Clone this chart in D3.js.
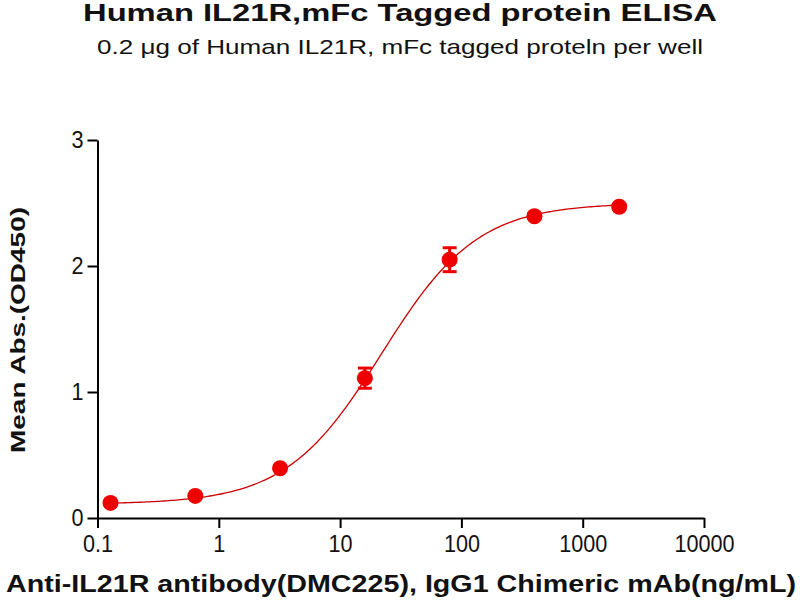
<!DOCTYPE html>
<html>
<head>
<meta charset="utf-8">
<script src="https://cdn.jsdelivr.net/npm/d3@7"></script>
<style>
  body { margin: 0; background: #fff; }
  text { font-family: "Liberation Sans", Arial, sans-serif; }
</style>
</head>
<body>
<svg id="chart" width="800" height="600"></svg>
<script>
// concentrations (ng/mL), 5-fold dilution series
var conc = [0.128, 0.64, 3.2, 16, 80, 400, 2000];
// mean OD450 and SD
var od = [0.12, 0.175, 0.395, 1.11, 2.05, 2.395, 2.47];
var sd = [0.01, 0.01, 0.015, 0.08, 0.095, 0.02, 0.02];
// 4PL fit: bottom, top, EC50, hill
var fitParams = [0.11, 2.5, 22, 1.1];

var xTicks = [0.1, 1, 10, 100, 1000, 10000];
var xTickLabels = ["0.1", "1", "10", "100", "1000", "10000"];
var yTicks = [0, 1, 2, 3];

var svg = d3.select("#chart");
var red = "#ee0000";

var x = d3.scaleLog().domain([0.1, 10000]).range([97.5, 704]);
var y = d3.scaleLinear().domain([0, 3]).range([518, 140]);

// squeeze or stretch text along its baseline
function stretch(sel, k) {
  sel.each(function () {
    var len = this.getComputedTextLength();
    d3.select(this)
      .attr("textLength", len * k)
      .attr("lengthAdjust", "spacingAndGlyphs");
  });
}

// axes
var xAxis = d3.axisBottom(x)
  .tickValues(xTicks)
  .tickFormat(function (d, i) { return xTickLabels[i]; })
  .tickSize(10)
  .tickSizeOuter(0)
  .tickPadding(7);

var yAxis = d3.axisLeft(y)
  .tickValues(yTicks)
  .tickFormat(d3.format("d"))
  .tickSize(10)
  .tickSizeOuter(0)
  .tickPadding(4);

var gx = svg.append("g")
  .attr("transform", "translate(0," + y(0) + ")")
  .call(xAxis);

var gy = svg.append("g")
  .attr("transform", "translate(" + x(0.1) + ",0)")
  .call(yAxis);

[gx, gy].forEach(function (g) {
  g.select(".domain").attr("stroke", "#000").attr("stroke-width", 2);
  g.selectAll(".tick line").attr("stroke", "#000").attr("stroke-width", 2);
  g.selectAll(".tick text")
    .attr("fill", "#111")
    .style("font-size", "24px");
});
stretch(gx.selectAll(".tick text"), 0.9);
stretch(gy.selectAll(".tick text"), 0.9);

// fitted curve
var curvePts = d3.range(Math.log10(conc[0]), Math.log10(conc[conc.length - 1]) + 0.001, 0.02)
  .map(function (lx) {
    var c = Math.pow(10, lx);
    var v = fitParams[0] + (fitParams[1] - fitParams[0]) / (1 + Math.pow(fitParams[2] / c, fitParams[3]));
    return [c, v];
  });

svg.append("path")
  .datum(curvePts)
  .attr("fill", "none")
  .attr("stroke", "#cc0000")
  .attr("stroke-width", 1.3)
  .attr("d", d3.line()
    .x(function (d) { return x(d[0]); })
    .y(function (d) { return y(d[1]); }));

// error bars
var pts = conc.map(function (c, i) { return { c: c, v: od[i], s: sd[i] }; });

var eb = svg.append("g").selectAll("g")
  .data(pts)
  .enter().append("g")
  .attr("stroke", red)
  .attr("stroke-width", 3);

eb.append("line")
  .attr("x1", function (d) { return x(d.c); })
  .attr("x2", function (d) { return x(d.c); })
  .attr("y1", function (d) { return y(d.v - d.s); })
  .attr("y2", function (d) { return y(d.v + d.s); });

[-1, 1].forEach(function (sgn) {
  eb.append("line")
    .attr("x1", function (d) { return x(d.c) - 7; })
    .attr("x2", function (d) { return x(d.c) + 7; })
    .attr("y1", function (d) { return y(d.v + sgn * d.s); })
    .attr("y2", function (d) { return y(d.v + sgn * d.s); });
});

// markers
svg.append("g").selectAll("circle")
  .data(pts)
  .enter().append("circle")
  .attr("cx", function (d) { return x(d.c); })
  .attr("cy", function (d) { return y(d.v); })
  .attr("r", 8)
  .attr("fill", red);

// titles
svg.append("text")
  .attr("x", 400).attr("y", 21)
  .attr("text-anchor", "middle")
  .style("font-size", "24px").style("font-weight", "bold")
  .attr("fill", "#111")
  .attr("textLength", 634).attr("lengthAdjust", "spacingAndGlyphs")
  .text("Human IL21R,mFc Tagged protein ELISA");

svg.append("text")
  .attr("x", 400).attr("y", 54)
  .attr("text-anchor", "middle")
  .style("font-size", "21px")
  .attr("fill", "#111")
  .attr("textLength", 606).attr("lengthAdjust", "spacingAndGlyphs")
  .text("0.2 \u03bcg of Human IL21R, mFc tagged proteln per well");

svg.append("text")
  .attr("x", 401).attr("y", 592)
  .attr("text-anchor", "middle")
  .style("font-size", "23px").style("font-weight", "bold")
  .attr("fill", "#111")
  .attr("textLength", 790).attr("lengthAdjust", "spacingAndGlyphs")
  .text("Anti-IL21R antibody(DMC225), IgG1 Chimeric mAb(ng/mL)");

svg.append("text")
  .attr("transform", "translate(25,330) rotate(-90)")
  .attr("text-anchor", "middle")
  .style("font-size", "21px").style("font-weight", "bold")
  .attr("fill", "#111")
  .attr("textLength", 246).attr("lengthAdjust", "spacingAndGlyphs")
  .text("Mean Abs.(OD450)");
</script>
</body>
</html>
